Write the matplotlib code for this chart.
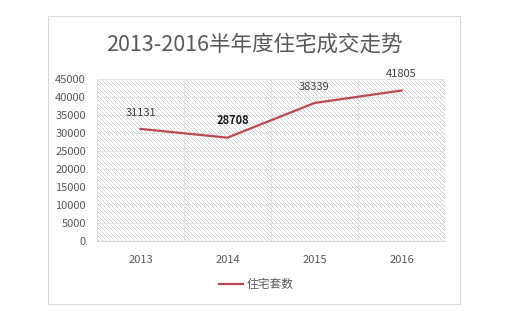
import matplotlib
matplotlib.use("Agg")
import matplotlib.pyplot as plt
import numpy as np
from matplotlib.patches import Rectangle
from matplotlib.ticker import MultipleLocator

plt.rcParams['font.family'] = ['Noto Sans CJK SC', 'DejaVu Sans']

years = ['2013', '2014', '2015', '2016']
values = [31131, 28708, 38339, 41805]
title = '2013-2016半年度住宅成交走势'
series_name = '住宅套数'

W, H = 524, 320
fig = plt.figure(figsize=(W/100, H/100), dpi=100)
fig.patch.set_facecolor('white')

# chart frame
fig.add_artist(Rectangle((48/W, 1-304/H), (460-48)/W, (304-16)/H,
                         transform=fig.transFigure, fill=False,
                         edgecolor='#d9d9d9', linewidth=0.8))

AX_L, AX_R, AX_T, AX_B = 97, 445, 79, 241
ax = fig.add_axes([AX_L/W, 1-AX_B/H, (AX_R-AX_L)/W, (AX_B-AX_T)/H])
ax.patch.set_facecolor('white')

# diagonal hatch texture for the plot area background
ph, pw = AX_B - AX_T, AX_R - AX_L
rr, cc = np.mgrid[0:ph, 0:pw]
mask = ((cc - rr) % 4) == 0
tex = np.ones((ph, pw, 3))
tex[mask] = 0.83
ax.imshow(tex, extent=(0, 1, 0, 1), transform=ax.transAxes, interpolation='nearest',
          aspect='auto', zorder=0)

x = list(range(len(years)))
ax.plot(x, values, color='#b94a4f', linewidth=1.6, zorder=3)

for i, v in enumerate(values):
    if i == 1:
        ax.annotate(str(v), (i, v), xytext=(4, 8), textcoords='offset points',
                    ha='center', va='bottom', fontsize=8, color='#1a1a1a',
                    fontweight='bold')
    else:
        ax.annotate(str(v), (i, v), xytext=(0, 8), textcoords='offset points',
                    ha='center', va='bottom', fontsize=8, color='#404040')

ax.set_xlim(-0.5, 3.5)
ax.set_ylim(0, 45000)
ax.set_aspect('auto')
ax.yaxis.set_major_locator(MultipleLocator(5000))
ax.set_xticks(x)
ax.set_xticklabels(years)
ax.xaxis.set_minor_locator(MultipleLocator(0.5))
ax.grid(True, which='major', axis='y', color='#e3e3e3', linewidth=0.8, zorder=1)
ax.grid(True, which='minor', axis='x', color='#e3e3e3', linewidth=0.8, zorder=1)

for s in ['top', 'right', 'left']:
    ax.spines[s].set_visible(False)
ax.spines['bottom'].set_color('#d9d9d9')
ax.spines['bottom'].set_linewidth(0.8)

ax.tick_params(axis='both', which='both', length=0, labelsize=8, colors='#595959')
ax.tick_params(axis='x', pad=10)
ax.tick_params(axis='y', pad=8)

fig.text(254/W, 1-45/H, title, ha='center', va='center', fontsize=15.5, color='#595959')

# legend
fig.add_artist(plt.Line2D([219/W, 243/W], [1-284/H, 1-284/H], color='#b94a4f',
                          linewidth=1.6, transform=fig.transFigure))
fig.text(247/W, 1-284/H, series_name, ha='left', va='center', fontsize=8.5, color='#595959')

fig.savefig('out.png', dpi=100)
